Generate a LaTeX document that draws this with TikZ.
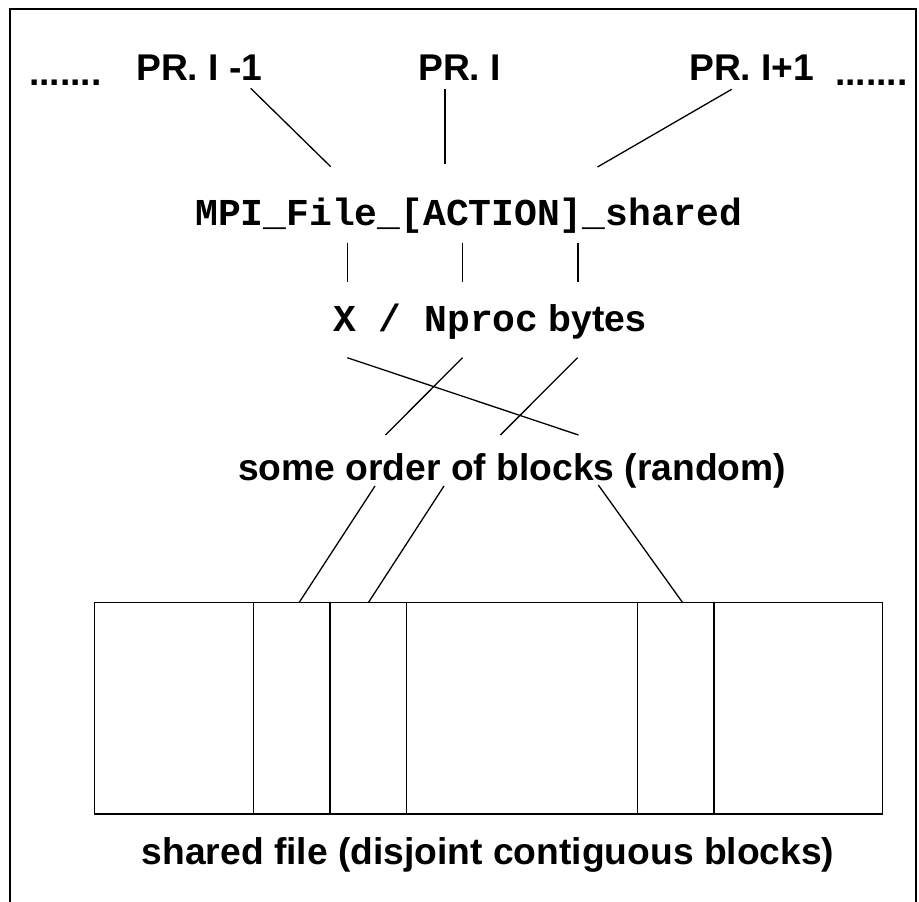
\documentclass[tikz,border=0pt]{standalone}
\usepackage{fontspec}
\setmainfont{Liberation Sans}
\newfontfamily\courfont{Liberation Mono}
\begin{document}
\begin{tikzpicture}[x=1pt,y=-1pt,
  lbl/.style={inner sep=0pt,anchor=base west,font=\fontsize{37.2}{40}\selectfont\bfseries},
  mono/.style={inner sep=0pt,anchor=base west,font=\fontsize{38}{40}\selectfont\courfont\bfseries},
  conn/.style={line width=1.3pt},
  cell/.style={line width=1.3pt}]
\useasboundingbox (0,0) rectangle (919,902);
% frame
\draw[line width=2pt] (10,902) -- (10,9) -- (916,9) -- (916,902);
% top labels
\node[lbl] (dl) at (29,85) {.......};
\node[lbl] (p1) at (136,80) {PR. I -1};
\node[lbl] (p2) at (418,80) {PR. I};
\node[lbl] (p3) at (689,80) {PR. I+1};
\node[lbl] (dr) at (835,85) {.......};
% function
\node[mono] (mpi) at (195,225.5) {MPI\_File\_[ACTION]\_shared};
% bytes
\node[lbl] (xb) at (333,331.7) {{\fontsize{38}{40}\selectfont\courfont\bfseries X / Nproc} bytes};
% order
\node[lbl] (ord) at (238,480) {some order of blocks (random)};
% file label
\node[lbl] (sf) at (141.7,864.5) {shared file (disjoint contiguous blocks)};
% coordinates
\coordinate (a1) at (250.7,88.3); \coordinate (a2) at (330.7,166.7);
\coordinate (b1) at (445,89);     \coordinate (b2) at (445,164);
\coordinate (c1) at (731.7,89.3); \coordinate (c2) at (597.5,167);
\coordinate (v1t) at (347.3,242.7); \coordinate (v1b) at (347.3,281.7);
\coordinate (v2t) at (462.7,242.7); \coordinate (v2b) at (462.7,281.7);
\coordinate (v3t) at (578,242.7);   \coordinate (v3b) at (578,281.7);
\coordinate (x1t) at (347.3,357.7); \coordinate (x1b) at (578.5,435);
\coordinate (x2t) at (462.5,357.7); \coordinate (x2b) at (385.5,435);
\coordinate (x3t) at (577.5,357.7); \coordinate (x3b) at (500.4,435);
\coordinate (l1t) at (375,486);     \coordinate (l1b) at (299,602.7);
\coordinate (l2t) at (444,486);     \coordinate (l2b) at (368.3,602.7);
\coordinate (l3t) at (598.3,485);   \coordinate (l3b) at (682.7,602.7);
% connectors
\draw[conn] (a1) -- (a2);
\draw[conn] (b1) -- (b2);
\draw[conn] (c1) -- (c2);
\draw[conn] (v1t) -- (v1b);
\draw[conn] (v2t) -- (v2b);
\draw[conn] (v3t) -- (v3b);
\draw[conn] (x1t) -- (x1b);
\draw[conn] (x2t) -- (x2b);
\draw[conn] (x3t) -- (x3b);
\draw[conn] (l1t) -- (l1b);
\draw[conn] (l2t) -- (l2b);
\draw[conn] (l3t) -- (l3b);
% shared file blocks
\draw[cell] (94.3,602.7) rectangle (882.5,814);
\foreach \xx in {253.3,330,406.7,637.7,714} \draw[cell] (\xx,602.7) -- (\xx,814);
\end{tikzpicture}
\end{document}
